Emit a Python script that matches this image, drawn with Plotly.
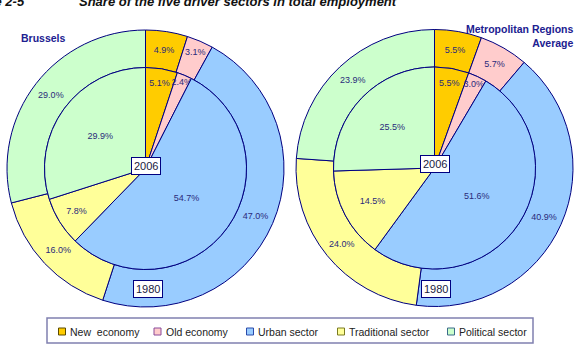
import plotly.graph_objects as go

# ---------------- data ----------------
sectors = ["New  economy", "Old economy", "Urban sector", "Traditional sector", "Political sector"]
colors = ["#FFCC00", "#FFCCCC", "#99CCFF", "#FFFF99", "#CCFFCC"]
edge_colors = ["#5A4A00", "#8A4A9A", "#2A4AAA", "#7A7A20", "#3A6A8A"]

brussels_1980 = [4.9, 3.1, 47.0, 16.0, 29.0]
brussels_2006 = [5.1, 2.4, 54.7, 7.8, 29.9]
metro_1980 = [5.5, 5.7, 40.9, 24.0, 23.9]
metro_2006 = [5.5, 3.0, 51.6, 14.5, 25.5]

title_text = "Share of the five driver sectors in total employment"
fig_label = "Figure 2-5"
year_outer = "1980"
year_inner = "2006"

# ---------------- layout geometry ----------------
W, H = 577, 347
R_OUT, R_IN = 138.5, 101
centers = [(145.5, 168.5), (434.5, 168.0)]

NAVY = "#000080"
TXT = "#2A2A7A"
FONT = "Liberation Sans, Arial, sans-serif"


def dom(cx, cy, r):
    return dict(x=[(cx - r) / W, (cx + r) / W], y=[(H - (cy + r)) / H, (H - (cy - r)) / H])


def px(x, y):
    return x / W, 1 - y / H


fig = go.Figure()

for (cx, cy), outer, inner in zip(centers, [brussels_1980, metro_1980], [brussels_2006, metro_2006]):
    fig.add_trace(go.Pie(
        labels=sectors, values=outer, sort=False, direction="clockwise", rotation=0,
        hole=R_IN / R_OUT, domain=dom(cx, cy, R_OUT),
        marker=dict(colors=colors, line=dict(color=NAVY, width=1)),
        texttemplate="%{value:.1f}%", textposition="inside", insidetextorientation="horizontal",
        textfont=dict(family=FONT, size=9, color=TXT), showlegend=False, hoverinfo="label+value",
    ))
    fig.add_trace(go.Pie(
        labels=sectors, values=inner, sort=False, direction="clockwise", rotation=0,
        domain=dom(cx, cy, R_IN),
        marker=dict(colors=colors, line=dict(color=NAVY, width=1)),
        texttemplate="%{value:.1f}%", textposition="inside", insidetextorientation="horizontal",
        textfont=dict(family=FONT, size=9, color=TXT), showlegend=False, hoverinfo="label+value",
    ))

annotations = []
shapes = []

# year boxes
year_box_y = [(165.5, 288.5), (164.0, 288.5)]
for (cx, cy), (yi, yo) in zip(centers, year_box_y):
    x, y = px(cx + 0.5, yi)
    annotations.append(dict(x=x, y=y, xref="paper", yref="paper", xanchor="center", yanchor="middle",
                            text=year_inner, showarrow=False,
                            font=dict(family=FONT, size=11, color="#1A1A40"), bgcolor="white",
                            bordercolor=NAVY, borderwidth=1, borderpad=2))
    x, y = px(cx + 2, yo)
    annotations.append(dict(x=x, y=y, xref="paper", yref="paper", xanchor="center", yanchor="middle",
                            text=year_outer, showarrow=False,
                            font=dict(family=FONT, size=11, color="#1A1A40"), bgcolor="white",
                            bordercolor=NAVY, borderwidth=1, borderpad=2))

# panel titles
x, y = px(19, 38)
annotations.append(dict(x=x, y=y, xref="paper", yref="paper", xanchor="left", yanchor="middle",
                        text="<b>Brussels</b>", showarrow=False,
                        font=dict(family=FONT, size=10.5, color="#202090")))
x, y = px(575, 35.5)
annotations.append(dict(x=x, y=y, xref="paper", yref="paper", xanchor="right", yanchor="middle",
                        align="right", text="<b>Metropolitan Regions<br>Average</b>", showarrow=False,
                        font=dict(family=FONT, size=10.5, color="#202090")))

# main title (clipped at top like the source)
x, y = px(77, 1)
annotations.append(dict(x=x, y=y, xref="paper", yref="paper", xanchor="left", yanchor="middle",
                        text="<b><i>" + title_text + "</i></b>", showarrow=False,
                        font=dict(family=FONT, size=13, color="#111111")))
x, y = px(27, 1)
annotations.append(dict(x=x, y=y, xref="paper", yref="paper", xanchor="right", yanchor="middle",
                        text="<b><i>" + fig_label + "</i></b>", showarrow=False,
                        font=dict(family=FONT, size=13, color="#111111")))

# legend box
shapes.append(dict(type="rect", xref="paper", yref="paper",
                   x0=47 / W, x1=533 / W, y0=1 - 343 / H, y1=1 - 318 / H,
                   line=dict(color="#8080B0", width=1.5), fillcolor="white"))
marker_x = [62, 157.5, 250, 341, 451]
leg_y = 331.5
for name, col, ec, mx in zip(sectors, colors, edge_colors, marker_x):
    shapes.append(dict(type="rect", xref="paper", yref="paper",
                       x0=(mx - 3.5) / W, x1=(mx + 3.5) / W,
                       y0=1 - (leg_y + 3.5) / H, y1=1 - (leg_y - 3.5) / H,
                       line=dict(color=ec, width=1), fillcolor=col))
    x, y = px(mx + 6, leg_y)
    annotations.append(dict(x=x, y=y, xref="paper", yref="paper", xanchor="left", yanchor="middle",
                            text=name, showarrow=False, font=dict(family=FONT, size=10.5, color="#222222")))

fig.update_layout(
    width=W, height=H, margin=dict(l=0, r=0, t=0, b=0),
    paper_bgcolor="white", plot_bgcolor="white",
    annotations=annotations, shapes=shapes,
    uniformtext=dict(minsize=9, mode="show"),
)

fig.write_html("out.html")
